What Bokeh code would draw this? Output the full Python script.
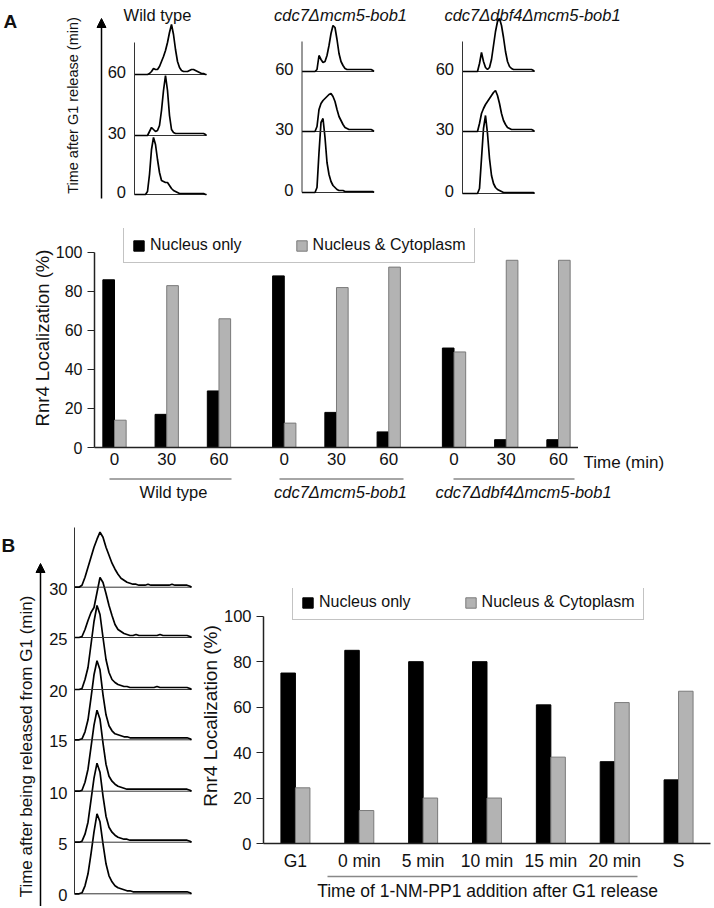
import math
from bokeh.plotting import figure
from bokeh.models import (Range1d, FactorRange, ColumnDataSource, Label, Arrow, NormalHead,
                          Legend, LegendItem, FixedTicker)
from bokeh.layouts import column, row
from bokeh.embed import file_html
from bokeh.resources import INLINE
from bokeh.transform import dodge

FONT = "Liberation Sans"

# ---------------- data ----------------
strains = ["Wild type", "cdc7Δmcm5-bob1", "cdc7Δdbf4Δmcm5-bob1"]
times_min = ["0", "30", "60"]
a_nucleus_only = [86, 17, 29, 88, 18, 8, 51, 4, 4]
a_nucleus_cyto = [14, 83, 66, 12.5, 82, 92.5, 49, 96, 96]

b_categories = ["G1", "0 min", "5 min", "10 min", "15 min", "20 min", "S"]
b_nucleus_only = [75, 85, 80, 80, 61, 36, 28]
b_nucleus_cyto = [24.5, 14.5, 20, 20, 38, 62, 67]

y_ticks = [0, 20, 40, 60, 80, 100]
legend_labels = ["Nucleus only", "Nucleus & Cytoplasm"]

# DNA-content histograms, panel A (relative cell counts per channel bin)
hist_wt_0 = [0,0,0,0,0,0,3,20,45,57,50,35,22,14,13,12,12,9,6,4,3,2,1,1,1,1,1,1,1,1,1,1,1,1,1,0]
hist_wt_30 = [0,0,0,0,0,0,0,4,8,6,4,5,10,25,45,60,45,20,6,3,2,2,2,2,2,2,2,2,2,2,2,2,2,2,2,1]
hist_wt_60 = [0,0,0,0,0,0,0,1,3,6,5,5,8,13,18,24,32,42,50,40,25,13,7,4,3,3,3,4,5,5,4,3,2,1,1,0]
hist_c7_0 = [0,0,0,0,0,0,0,5,40,70,74,55,30,18,11,7,5,3,2,2,2,1,1,1,1,1,1,1,1,1,1,1,1,1,1,1]
hist_c7_30 = [0,0,0,0,0,0,0,5,22,28,31,33,35,37,38,35,30,22,15,11,7,4,3,2,2,2,2,2,2,2,2,2,2,2,2,1]
hist_c7_60 = [0,0,0,0,0,0,0,2,16,12,9,10,16,26,38,46,44,32,18,10,6,3,2,2,2,2,2,2,2,2,2,2,2,2,2,1]
hist_c4_0 = [0,0,0,0,0,0,0,0,5,35,65,78,60,35,18,10,6,4,3,2,1,1,1,1,1,1,1,1,1,1,1,1,1,1,1,1]
hist_c4_30 = [0,0,0,0,0,0,0,0,8,18,23,27,30,33,36,39,41,36,28,18,11,7,4,3,2,2,2,2,2,2,2,2,2,2,2,1]
hist_c4_60 = [0,0,0,0,0,0,0,0,8,19,10,4,2,4,12,26,40,50,53,46,34,20,10,5,3,2,2,2,2,2,2,2,2,2,2,1]

# DNA-content histograms, panel B
hist_b_times = ["0", "5", "10", "15", "20", "25", "30"]
hist_b_0 = [0,0,1,8,20,40,62,80,72,50,30,18,12,8,6,5,4,3,3,2,2,2,2,2,2,2,2,2,2,2,2,2,2,2,2,2,2,2,1]
hist_b_5 = [0,0,1,8,20,42,64,79,70,46,26,15,10,7,5,4,3,3,2,2,2,2,2,2,2,2,2,2,2,2,2,2,2,2,2,2,2,2,1]
hist_b_10 = [0,0,1,9,22,44,66,81,72,48,27,15,10,7,5,4,3,2,2,2,2,2,2,2,2,2,2,2,2,2,2,2,2,2,2,2,2,2,1]
hist_b_15 = [0,0,1,8,20,42,65,79,70,45,25,14,9,6,5,4,3,3,2,2,2,2,2,2,2,2,2,2,2,2,2,2,2,2,2,2,2,2,1]
hist_b_20 = [0,0,1,10,22,45,68,84,75,52,30,17,10,7,5,4,3,3,2,2,2,2,2,2,2,2,2,3,2,2,2,2,2,2,2,2,2,2,1]
hist_b_25 = [0,0,1,8,17,25,30,45,60,55,44,32,22,13,8,6,4,3,2,2,3,2,2,2,2,2,2,2,3,2,2,2,2,2,2,2,2,2,1]
hist_b_30 = [0,0,2,10,20,30,40,48,55,50,40,32,24,18,13,9,7,5,4,3,3,2,2,2,3,2,2,2,2,2,2,2,3,2,2,2,2,2,1]

hist_a = [[hist_wt_0, hist_wt_30, hist_wt_60],
          [hist_c7_0, hist_c7_30, hist_c7_60],
          [hist_c4_0, hist_c4_30, hist_c4_60]]
hist_b = [hist_b_0, hist_b_5, hist_b_10, hist_b_15, hist_b_20, hist_b_25, hist_b_30]

# ---------------- layout / style constants ----------------
W = 714
BLACK = "#000000"
GRAY = "#b3b3b3"
GRAY_LINE = "#7a7a7a"
AX = "#222222"
TXT = "#111111"

def no_align(p):
    try:
        p.frame_align = False
    except Exception:
        pass

def canvas(w, h, x0, y0):
    p = figure(width=w, height=h, x_range=Range1d(x0, x0 + w), y_range=Range1d(y0 + h, y0),
               output_backend="svg", toolbar_location=None, title=None,
               x_axis_location=None, y_axis_location=None, min_border=0)
    p.outline_line_color = None
    p.grid.visible = False
    no_align(p)
    return p

def lab(p, x, y, text, size="16px", align="left", baseline="alphabetic", style="normal", angle=0):
    p.add_layout(Label(x=x, y=y, text=text, text_font=FONT, text_font_size=size,
                       text_align=align, text_baseline=baseline, text_font_style=style,
                       angle=angle, text_color=TXT))

# ===== Panel A: flow cytometry histograms (page px 0..714 x 0..220) =====
top = canvas(W, 220, 0, 0)
col_x = [134, 301.5, 462]
col_base = [[194, 135, 74], [192, 131, 71], [193, 131, 71]]
col_top = [42, 41, 41]
BW_A = 2.0
title_x = [157, 340, 532]
for ci, strain in enumerate(strains):
    x0 = col_x[ci]
    for ti, t in enumerate(times_min):
        base = col_base[ci][ti]
        counts = hist_a[ci][ti]
        n = len(counts)
        xs = [x0] + [x0 + BW_A * (k + 0.5) for k in range(n)] + [x0 + BW_A * n]
        ys = [base] + [base - c for c in counts] + [base]
        top.line([x0, x0 + BW_A * n], [base, base], line_color="#333333", line_width=1)
        top.line(xs, ys, line_color=BLACK, line_width=1.7)
        lab(top, x0 - 8.5, base - 2.5, t, size="16.5px", align="right")
    top.line([x0, x0], [col_top[ci], col_base[ci][0]], line_color="#333333", line_width=1)
    lab(top, title_x[ci], 14, strain, size="16.5px", align="center",
        style="normal" if ci == 0 else "italic")
lab(top, 3, 20.5, "A", size="19px", style="bold")
top.add_layout(Arrow(end=NormalHead(size=9, fill_color=BLACK, line_color=BLACK, line_width=1),
                     x_start=101, y_start=198, x_end=101, y_end=18, line_width=1.5, line_color=BLACK))
lab(top, 72, 105, "Time after G1 release (min)", size="14.5px", align="center",
    baseline="middle", angle=math.pi / 2)

# ===== Panel A: bar chart (page y 220..477, frame x 94..578, y 228..447) =====
GP = 0.25
factors_a = [(s, t) for s in strains for t in times_min]
figA = figure(width=578, height=257,
              x_range=FactorRange(*factors_a, group_padding=GP, range_padding=-0.117,
                                  range_padding_units="absolute"),
              y_range=Range1d(0, 112.3), output_backend="svg", toolbar_location=None,
              title=None, min_border_left=94, min_border_right=0, min_border_top=8,
              min_border_bottom=30)
no_align(figA)
srcA = ColumnDataSource(dict(x=factors_a, no=a_nucleus_only, nc=a_nucleus_cyto))
BWA = 0.223
rA1 = figA.vbar(x=dodge("x", -BWA / 2, range=figA.x_range), top="no", width=BWA, source=srcA,
                fill_color=BLACK, line_color=BLACK)
rA2 = figA.vbar(x=dodge("x", BWA / 2, range=figA.x_range), top="nc", width=BWA, source=srcA,
                fill_color=GRAY, line_color=GRAY_LINE)

def style_axes(p, ytick_size, xtick_size, ylabel_size, ylabel_standoff, xstandoff):
    p.outline_line_color = None
    p.grid.visible = False
    y = p.yaxis[0]
    y.ticker = FixedTicker(ticks=y_ticks)
    y.bounds = (0, 100)
    y.minor_tick_line_color = None
    y.major_tick_out = 7
    y.major_tick_in = 0
    y.major_tick_line_color = AX
    y.axis_line_color = AX
    y.axis_line_width = 1.5
    y.major_label_text_font = FONT
    y.major_label_text_font_size = ytick_size
    y.major_label_text_color = TXT
    y.major_label_standoff = 5
    y.axis_label = "Rnr4 Localization (%)"
    y.axis_label_text_font = FONT
    y.axis_label_text_font_size = ylabel_size
    y.axis_label_text_font_style = "normal"
    y.axis_label_text_color = TXT
    y.axis_label_standoff = ylabel_standoff
    x = p.xaxis[0]
    x.major_tick_out = 0
    x.major_tick_in = 0
    x.axis_line_color = AX
    x.axis_line_width = 1.5
    x.major_label_text_font = FONT
    x.major_label_text_font_size = xtick_size
    x.major_label_text_color = TXT
    x.major_label_standoff = xstandoff

style_axes(figA, "16px", "17px", "18.5px", 0, 5)
figA.xaxis[0].group_text_color = None
figA.xaxis[0].group_text_font_size = "0px"
figA.xaxis[0].separator_line_color = None

def make_legend(r1, r2, loc):
    return Legend(items=[LegendItem(label=legend_labels[0], renderers=[r1]),
                         LegendItem(label=legend_labels[1], renderers=[r2])],
                  location=loc, orientation="horizontal", padding=8, spacing=53,
                  label_standoff=5, glyph_width=13, glyph_height=13,
                  label_text_font=FONT, label_text_font_size="16px", label_text_color=TXT,
                  border_line_color="#888888", border_line_width=1, background_fill_alpha=1)

figA.add_layout(make_legend(rA1, rA2, (29, 184)))

# "Time (min)" beside the x tick labels
timeA = canvas(W - 578, 257, 578, 220)
lab(timeA, 583, 462, "Time (min)", size="17px", align="left", baseline="middle")

# strain labels and underlines under panel A bar chart (page y 477..510)
stripA = canvas(W, 33, 0, 477)
under_a = [(109, 231), (279, 403), (453, 574)]
label_a_x = [173, 340, 523]
for gi, s in enumerate(strains):
    stripA.line(list(under_a[gi]), [478.5, 478.5], line_color="#888888", line_width=1.3)
    lab(stripA, label_a_x[gi], 491.5, s, size="16.5px", align="center", baseline="middle",
        style="normal" if gi == 0 else "italic")

# ===== Panel B: histograms (page x 0..196, y 510..906) =====
histB = canvas(196, 396, 0, 510)
BX0 = 74
BW_B = 3.0
b_base = [893.3, 841.7, 790.7, 739.3, 689, 637, 586.7]
for ti, t in enumerate(hist_b_times):
    base = b_base[ti]
    counts = hist_b[ti]
    n = len(counts)
    xs = [BX0] + [BX0 + BW_B * (k + 0.5) for k in range(n)] + [BX0 + BW_B * n]
    ys = [base] + [base - c for c in counts] + [base]
    histB.line([BX0, BX0 + BW_B * n], [base, base], line_color="#333333", line_width=1)
    histB.line(xs, ys, line_color=BLACK, line_width=1.7)
    lab(histB, 67, base + 1.5, t, size="16.5px", align="right")
histB.line([BX0, BX0], [527, b_base[0]], line_color="#333333", line_width=1)
lab(histB, 1, 545, "B", size="19px", style="bold")
histB.add_layout(Arrow(end=NormalHead(size=9, fill_color=BLACK, line_color=BLACK, line_width=1),
                       x_start=40, y_start=910, x_end=40, y_end=563, line_width=1.5, line_color=BLACK))
lab(histB, 25.5, 746, "Time after being released from G1 (min)", size="17px", align="center",
    baseline="middle", angle=math.pi / 2)

# ===== Panel B: bar chart (page x 196..714, y 510..873, frame x 258..710, y 588..845) =====
figB = figure(width=W - 196, height=363, x_range=FactorRange(*b_categories),
              y_range=Range1d(0, 112.2), output_backend="svg", toolbar_location=None,
              title=None, min_border_left=62, min_border_right=4, min_border_top=78,
              min_border_bottom=28)
no_align(figB)
srcB = ColumnDataSource(dict(x=b_categories, no=b_nucleus_only, nc=b_nucleus_cyto))
BWB = 0.227
rB1 = figB.vbar(x=dodge("x", -BWB / 2, range=figB.x_range), top="no", width=BWB, source=srcB,
                fill_color=BLACK, line_color=BLACK)
rB2 = figB.vbar(x=dodge("x", BWB / 2, range=figB.x_range), top="nc", width=BWB, source=srcB,
                fill_color=GRAY, line_color=GRAY_LINE)
style_axes(figB, "16.5px", "17.5px", "19px", 0, 7)
figB.add_layout(make_legend(rB1, rB2, (29, 223)))

stripB = canvas(W - 196, 33, 196, 873)
stripB.line([327, 637], [876, 876], line_color="#888888", line_width=1.3)
lab(stripB, 487, 890, "Time of 1-NM-PP1 addition after G1 release", size="17.5px",
    align="center", baseline="middle")

layout = column(top, row(figA, timeA), stripA, row(histB, column(figB, stripB)))
open("out.html", "w").write(file_html(layout, INLINE))
